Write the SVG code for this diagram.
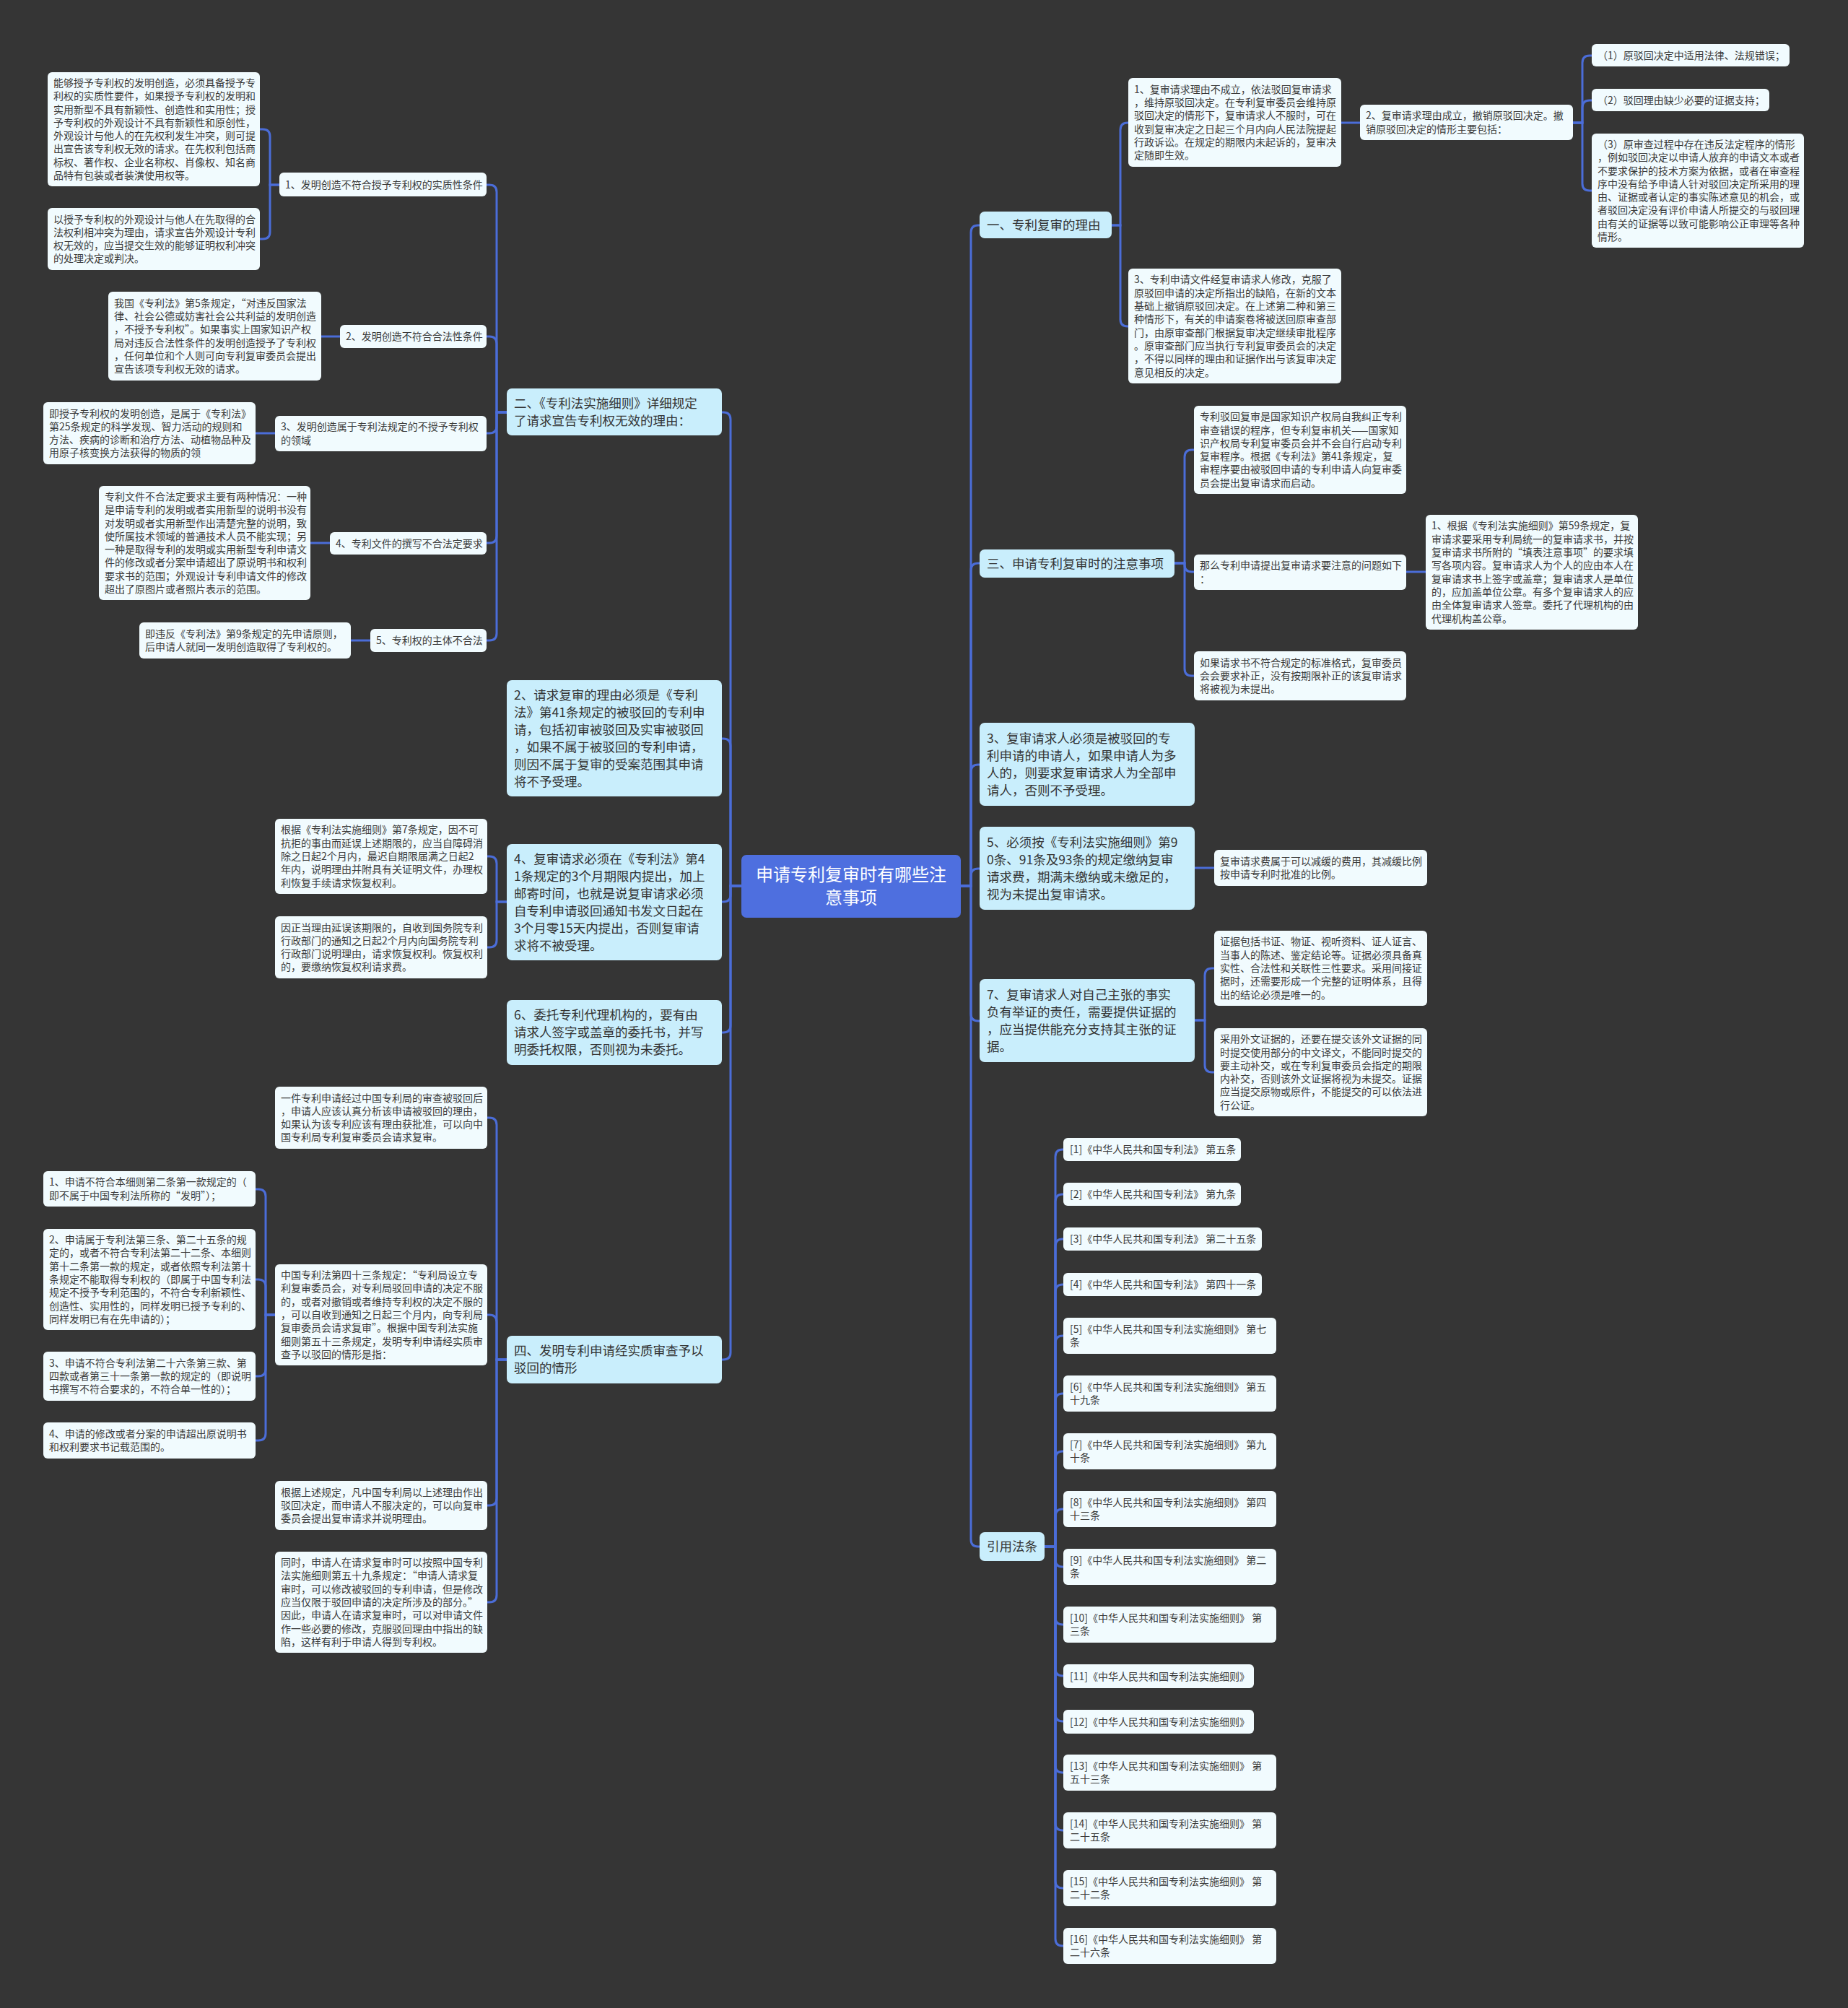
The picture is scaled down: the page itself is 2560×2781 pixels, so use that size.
<svg xmlns="http://www.w3.org/2000/svg" width="2560" height="2781" viewBox="0 0 2560 2781">
<style>
.bg{fill:#353535}
.c{fill:#4e6fdf}
.l1{fill:#c9eefc}
.lf{fill:#f1fbfe}
.tc{font-family:"Noto Sans CJK SC","Noto Sans",sans-serif;font-size:24px;fill:#ffffff;text-anchor:middle}
.t1{font-family:"Noto Sans CJK SC","Noto Sans",sans-serif;font-size:17.5px;fill:#333333}
.t2{font-family:"Noto Sans CJK SC","Noto Sans",sans-serif;font-size:14px;fill:#3a3a3a}
.ln{fill:none;stroke:#4b6dd8;stroke-width:3}
</style>
<rect class="bg" x="0" y="0" width="2560" height="2781"/>
<g id="connectors">
<path class="ln" d="M1027 1227H1012V581Q1012 571 1002 571H1000"/>
<path class="ln" d="M1027 1227H1012V1033Q1012 1023 1002 1023H1000"/>
<path class="ln" d="M1027 1227H1012V1239Q1012 1249 1002 1249H1000"/>
<path class="ln" d="M1027 1227H1012V1420Q1012 1430 1002 1430H1000"/>
<path class="ln" d="M1027 1227H1012V1873Q1012 1883 1002 1883H1000"/>
<path class="ln" d="M1331 1227H1345V322Q1345 312 1355 312H1357"/>
<path class="ln" d="M1331 1227H1345V790Q1345 780 1355 780H1357"/>
<path class="ln" d="M1331 1227H1345V1069Q1345 1059 1355 1059H1357"/>
<path class="ln" d="M1331 1227H1345V1213Q1345 1203 1355 1203H1357"/>
<path class="ln" d="M1331 1227H1345V1404Q1345 1414 1355 1414H1357"/>
<path class="ln" d="M1331 1227H1345V2132Q1345 2142 1355 2142H1357"/>
<path class="ln" d="M702 571H688V266Q688 256 678 256H674"/>
<path class="ln" d="M702 571H688V476Q688 466 678 466H674"/>
<path class="ln" d="M702 571H688V590Q688 600 678 600H674"/>
<path class="ln" d="M702 571H688V742Q688 752 678 752H674"/>
<path class="ln" d="M702 571H688V877Q688 887 678 887H674"/>
<path class="ln" d="M387 256H374V189Q374 179 364 179H360"/>
<path class="ln" d="M387 256H374V321Q374 331 364 331H360"/>
<path class="ln" d="M471 466H445"/>
<path class="ln" d="M381 600H354"/>
<path class="ln" d="M457 752H430"/>
<path class="ln" d="M513 887H486"/>
<path class="ln" d="M702 1249H688V1196Q688 1186 678 1186H675"/>
<path class="ln" d="M702 1249H688V1302Q688 1312 678 1312H675"/>
<path class="ln" d="M702 1883H688V1558Q688 1548 678 1548H675"/>
<path class="ln" d="M702 1883H688V1831Q688 1821 678 1821H675"/>
<path class="ln" d="M702 1883H688V2075Q688 2085 678 2085H675"/>
<path class="ln" d="M702 1883H688V2209Q688 2219 678 2219H675"/>
<path class="ln" d="M381 1821H368V1657Q368 1647 358 1647H354"/>
<path class="ln" d="M381 1821H368V1782Q368 1772 358 1772H354"/>
<path class="ln" d="M381 1821H368V1896Q368 1906 358 1906H354"/>
<path class="ln" d="M381 1821H368V1985Q368 1995 358 1995H354"/>
<path class="ln" d="M1540 312H1552V180Q1552 170 1562 170H1563"/>
<path class="ln" d="M1540 312H1552V442Q1552 452 1562 452H1563"/>
<path class="ln" d="M1858 170H1884"/>
<path class="ln" d="M2179 170H2192V87Q2192 77 2202 77H2205"/>
<path class="ln" d="M2179 170H2192V149Q2192 139 2202 139H2205"/>
<path class="ln" d="M2179 170H2192V254Q2192 264 2202 264H2205"/>
<path class="ln" d="M1627 780H1641V633Q1641 623 1651 623H1654"/>
<path class="ln" d="M1627 780H1641V782Q1641 792 1651 792H1654"/>
<path class="ln" d="M1627 780H1641V926Q1641 936 1651 936H1654"/>
<path class="ln" d="M1948 792H1975"/>
<path class="ln" d="M1655 1202H1682"/>
<path class="ln" d="M1655 1413H1669V1351Q1669 1341 1679 1341H1682"/>
<path class="ln" d="M1655 1413H1669V1475Q1669 1485 1679 1485H1682"/>
<path class="ln" d="M1447 2142H1462V1602Q1462 1592 1472 1592H1473"/>
<path class="ln" d="M1447 2142H1462V1664Q1462 1654 1472 1654H1473"/>
<path class="ln" d="M1447 2142H1462V1726Q1462 1716 1472 1716H1473"/>
<path class="ln" d="M1447 2142H1462V1789Q1462 1779 1472 1779H1473"/>
<path class="ln" d="M1447 2142H1462V1860Q1462 1850 1472 1850H1473"/>
<path class="ln" d="M1447 2142H1462V1940Q1462 1930 1472 1930H1473"/>
<path class="ln" d="M1447 2142H1462V2020Q1462 2010 1472 2010H1473"/>
<path class="ln" d="M1447 2142H1462V2100Q1462 2090 1472 2090H1473"/>
<path class="ln" d="M1447 2142H1462V2160Q1462 2170 1472 2170H1473"/>
<path class="ln" d="M1447 2142H1462V2240Q1462 2250 1472 2250H1473"/>
<path class="ln" d="M1447 2142H1462V2311Q1462 2321 1472 2321H1473"/>
<path class="ln" d="M1447 2142H1462V2374Q1462 2384 1472 2384H1473"/>
<path class="ln" d="M1447 2142H1462V2445Q1462 2455 1472 2455H1473"/>
<path class="ln" d="M1447 2142H1462V2525Q1462 2535 1472 2535H1473"/>
<path class="ln" d="M1447 2142H1462V2605Q1462 2615 1472 2615H1473"/>
<path class="ln" d="M1447 2142H1462V2685Q1462 2695 1472 2695H1473"/>
</g>
<g id="center"><rect class="c" x="1027" y="1184" width="304" height="87" rx="7"/><text class="tc" x="1179" y="1220"><tspan x="1179">申请专利复审时有哪些注</tspan><tspan x="1179" dy="32">意事项</tspan></text></g>
<g id="b-er"><rect class="l1" x="702" y="538" width="298" height="65" rx="7"/><text class="t1" x="712" y="564.8"><tspan x="712">二、《专利法实施细则》详细规定</tspan><tspan x="712" dy="24">了请求宣告专利权无效的理由：</tspan></text></g>
<g id="b-2"><rect class="l1" x="702" y="942" width="298" height="161" rx="7"/><text class="t1" x="712" y="968.8"><tspan x="712">2、请求复审的理由必须是《专利</tspan><tspan x="712" dy="24">法》第41条规定的被驳回的专利申</tspan><tspan x="712" dy="24">请，包括初审被驳回及实审被驳回</tspan><tspan x="712" dy="24">，如果不属于被驳回的专利申请，</tspan><tspan x="712" dy="24">则因不属于复审的受案范围其申请</tspan><tspan x="712" dy="24">将不予受理。</tspan></text></g>
<g id="b-4"><rect class="l1" x="702" y="1169" width="298" height="161" rx="7"/><text class="t1" x="712" y="1195.8"><tspan x="712">4、复审请求必须在《专利法》第4</tspan><tspan x="712" dy="24">1条规定的3个月期限内提出，加上</tspan><tspan x="712" dy="24">邮寄时间，也就是说复审请求必须</tspan><tspan x="712" dy="24">自专利申请驳回通知书发文日起在</tspan><tspan x="712" dy="24">3个月零15天内提出，否则复审请</tspan><tspan x="712" dy="24">求将不被受理。</tspan></text></g>
<g id="b-6"><rect class="l1" x="702" y="1385" width="298" height="90" rx="7"/><text class="t1" x="712" y="1412.3"><tspan x="712">6、委托专利代理机构的，要有由</tspan><tspan x="712" dy="24">请求人签字或盖章的委托书，并写</tspan><tspan x="712" dy="24">明委托权限，否则视为未委托。</tspan></text></g>
<g id="b-si"><rect class="l1" x="702" y="1850" width="298" height="66" rx="7"/><text class="t1" x="712" y="1877.3"><tspan x="712">四、发明专利申请经实质审查予以</tspan><tspan x="712" dy="24">驳回的情形</tspan></text></g>
<g id="b-yi"><rect class="l1" x="1357" y="293" width="183" height="37" rx="7"/><text class="t1" x="1367" y="317.8">一、专利复审的理由</text></g>
<g id="b-san"><rect class="l1" x="1357" y="761" width="270" height="39" rx="7"/><text class="t1" x="1367" y="786.8">三、申请专利复审时的注意事项</text></g>
<g id="b-3"><rect class="l1" x="1357" y="1001" width="298" height="115" rx="7"/><text class="t1" x="1367" y="1028.8"><tspan x="1367">3、复审请求人必须是被驳回的专</tspan><tspan x="1367" dy="24">利申请的申请人，如果申请人为多</tspan><tspan x="1367" dy="24">人的，则要求复审请求人为全部申</tspan><tspan x="1367" dy="24">请人，否则不予受理。</tspan></text></g>
<g id="b-5"><rect class="l1" x="1357" y="1145" width="298" height="115" rx="7"/><text class="t1" x="1367" y="1172.8"><tspan x="1367">5、必须按《专利法实施细则》第9</tspan><tspan x="1367" dy="24">0条、91条及93条的规定缴纳复审</tspan><tspan x="1367" dy="24">请求费，期满未缴纳或未缴足的，</tspan><tspan x="1367" dy="24">视为未提出复审请求。</tspan></text></g>
<g id="b-7"><rect class="l1" x="1357" y="1356" width="298" height="115" rx="7"/><text class="t1" x="1367" y="1383.8"><tspan x="1367">7、复审请求人对自己主张的事实</tspan><tspan x="1367" dy="24">负有举证的责任，需要提供证据的</tspan><tspan x="1367" dy="24">，应当提供能充分支持其主张的证</tspan><tspan x="1367" dy="24">据。</tspan></text></g>
<g id="b-ref"><rect class="l1" x="1357" y="2122" width="90" height="40" rx="7"/><text class="t1" x="1367" y="2148.3">引用法条</text></g>
<g id="a1"><rect class="lf" x="387" y="239" width="287" height="33" rx="6"/><text class="t2" x="395" y="260.5">1、发明创造不符合授予专利权的实质性条件</text></g>
<g id="a2"><rect class="lf" x="471" y="450" width="203" height="32" rx="6"/><text class="t2" x="479" y="471">2、发明创造不符合合法性条件</text></g>
<g id="a3"><rect class="lf" x="381" y="576" width="293" height="49" rx="6"/><text class="t2" x="389" y="596.4"><tspan x="389">3、发明创造属于专利法规定的不授予专利权</tspan><tspan x="389" dy="18.3">的领域</tspan></text></g>
<g id="a4"><rect class="lf" x="457" y="737" width="217" height="31" rx="6"/><text class="t2" x="465" y="757.5">4、专利文件的撰写不合法定要求</text></g>
<g id="a5"><rect class="lf" x="513" y="871" width="161" height="32" rx="6"/><text class="t2" x="521" y="892">5、专利权的主体不合法</text></g>
<g id="la"><rect class="lf" x="66" y="100" width="294" height="158" rx="6"/><text class="t2" x="74" y="119.95"><tspan x="74">能够授予专利权的发明创造，必须具备授予专</tspan><tspan x="74" dy="18.3">利权的实质性要件，如果授予专利权的发明和</tspan><tspan x="74" dy="18.3">实用新型不具有新颖性、创造性和实用性；授</tspan><tspan x="74" dy="18.3">予专利权的外观设计不具有新颖性和原创性，</tspan><tspan x="74" dy="18.3">外观设计与他人的在先权利发生冲突，则可提</tspan><tspan x="74" dy="18.3">出宣告该专利权无效的请求。在先权利包括商</tspan><tspan x="74" dy="18.3">标权、著作权、企业名称权、肖像权、知名商</tspan><tspan x="74" dy="18.3">品特有包装或者装潢使用权等。</tspan></text></g>
<g id="lb"><rect class="lf" x="66" y="288" width="294" height="86" rx="6"/><text class="t2" x="74" y="308.55"><tspan x="74">以授予专利权的外观设计与他人在先取得的合</tspan><tspan x="74" dy="18.3">法权利相冲突为理由，请求宣告外观设计专利</tspan><tspan x="74" dy="18.3">权无效的，应当提交生效的能够证明权利冲突</tspan><tspan x="74" dy="18.3">的处理决定或判决。</tspan></text></g>
<g id="lc"><rect class="lf" x="150" y="404" width="295" height="123" rx="6"/><text class="t2" x="158" y="424.75"><tspan x="158">我国《专利法》第5条规定，“对违反国家法</tspan><tspan x="158" dy="18.3">律、社会公德或妨害社会公共利益的发明创造</tspan><tspan x="158" dy="18.3">，不授予专利权”。如果事实上国家知识产权</tspan><tspan x="158" dy="18.3">局对违反合法性条件的发明创造授予了专利权</tspan><tspan x="158" dy="18.3">，任何单位和个人则可向专利复审委员会提出</tspan><tspan x="158" dy="18.3">宣告该项专利权无效的请求。</tspan></text></g>
<g id="ld"><rect class="lf" x="60" y="557" width="294" height="86" rx="6"/><text class="t2" x="68" y="577.55"><tspan x="68">即授予专利权的发明创造，是属于《专利法》</tspan><tspan x="68" dy="18.3">第25条规定的科学发现、智力活动的规则和</tspan><tspan x="68" dy="18.3">方法、疾病的诊断和治疗方法、动植物品种及</tspan><tspan x="68" dy="18.3">用原子核变换方法获得的物质的领</tspan></text></g>
<g id="le"><rect class="lf" x="137" y="673" width="293" height="158" rx="6"/><text class="t2" x="145" y="692.95"><tspan x="145">专利文件不合法定要求主要有两种情况：一种</tspan><tspan x="145" dy="18.3">是申请专利的发明或者实用新型的说明书没有</tspan><tspan x="145" dy="18.3">对发明或者实用新型作出清楚完整的说明，致</tspan><tspan x="145" dy="18.3">使所属技术领域的普通技术人员不能实现；另</tspan><tspan x="145" dy="18.3">一种是取得专利的发明或实用新型专利申请文</tspan><tspan x="145" dy="18.3">件的修改或者分案申请超出了原说明书和权利</tspan><tspan x="145" dy="18.3">要求书的范围；外观设计专利申请文件的修改</tspan><tspan x="145" dy="18.3">超出了原图片或者照片表示的范围。</tspan></text></g>
<g id="lf6"><rect class="lf" x="193" y="862" width="293" height="50" rx="6"/><text class="t2" x="201" y="882.85"><tspan x="201">即违反《专利法》第9条规定的先申请原则，</tspan><tspan x="201" dy="18.3">后申请人就同一发明创造取得了专利权的。</tspan></text></g>
<g id="f1"><rect class="lf" x="381" y="1134" width="294" height="104" rx="6"/><text class="t2" x="389" y="1154.4"><tspan x="389">根据《专利法实施细则》第7条规定，因不可</tspan><tspan x="389" dy="18.3">抗拒的事由而延误上述期限的，应当自障碍消</tspan><tspan x="389" dy="18.3">除之日起2个月内，最迟自期限届满之日起2</tspan><tspan x="389" dy="18.3">年内，说明理由并附具有关证明文件，办理权</tspan><tspan x="389" dy="18.3">利恢复手续请求恢复权利。</tspan></text></g>
<g id="f2"><rect class="lf" x="381" y="1269" width="294" height="86" rx="6"/><text class="t2" x="389" y="1289.55"><tspan x="389">因正当理由延误该期限的，自收到国务院专利</tspan><tspan x="389" dy="18.3">行政部门的通知之日起2个月内向国务院专利</tspan><tspan x="389" dy="18.3">行政部门说明理由，请求恢复权利。恢复权利</tspan><tspan x="389" dy="18.3">的，要缴纳恢复权利请求费。</tspan></text></g>
<g id="s1"><rect class="lf" x="381" y="1505" width="294" height="86" rx="6"/><text class="t2" x="389" y="1525.55"><tspan x="389">一件专利申请经过中国专利局的审查被驳回后</tspan><tspan x="389" dy="18.3">，申请人应该认真分析该申请被驳回的理由，</tspan><tspan x="389" dy="18.3">如果认为该专利应该有理由获批准，可以向中</tspan><tspan x="389" dy="18.3">国专利局专利复审委员会请求复审。</tspan></text></g>
<g id="s2"><rect class="lf" x="381" y="1751" width="294" height="140" rx="6"/><text class="t2" x="389" y="1771.1"><tspan x="389">中国专利法第四十三条规定：“专利局设立专</tspan><tspan x="389" dy="18.3">利复审委员会，对专利局驳回申请的决定不服</tspan><tspan x="389" dy="18.3">的，或者对撤销或者维持专利权的决定不服的</tspan><tspan x="389" dy="18.3">，可以自收到通知之日起三个月内，向专利局</tspan><tspan x="389" dy="18.3">复审委员会请求复审”。根据中国专利法实施</tspan><tspan x="389" dy="18.3">细则第五十三条规定，发明专利申请经实质审</tspan><tspan x="389" dy="18.3">查予以驳回的情形是指：</tspan></text></g>
<g id="s3"><rect class="lf" x="381" y="2051" width="294" height="68" rx="6"/><text class="t2" x="389" y="2071.7"><tspan x="389">根据上述规定，凡中国专利局以上述理由作出</tspan><tspan x="389" dy="18.3">驳回决定，而申请人不服决定的，可以向复审</tspan><tspan x="389" dy="18.3">委员会提出复审请求并说明理由。</tspan></text></g>
<g id="s4"><rect class="lf" x="381" y="2149" width="294" height="140" rx="6"/><text class="t2" x="389" y="2169.1"><tspan x="389">同时，申请人在请求复审时可以按照中国专利</tspan><tspan x="389" dy="18.3">法实施细则第五十九条规定：“申请人请求复</tspan><tspan x="389" dy="18.3">审时，可以修改被驳回的专利申请，但是修改</tspan><tspan x="389" dy="18.3">应当仅限于驳回申请的决定所涉及的部分。”</tspan><tspan x="389" dy="18.3">因此，申请人在请求复审时，可以对申请文件</tspan><tspan x="389" dy="18.3">作一些必要的修改，克服驳回理由中指出的缺</tspan><tspan x="389" dy="18.3">陷，这样有利于申请人得到专利权。</tspan></text></g>
<g id="t1"><rect class="lf" x="60" y="1622" width="294" height="49" rx="6"/><text class="t2" x="68" y="1642.35"><tspan x="68">1、申请不符合本细则第二条第一款规定的（</tspan><tspan x="68" dy="18.3">即不属于中国专利法所称的“发明”）；</tspan></text></g>
<g id="t2"><rect class="lf" x="60" y="1702" width="294" height="140" rx="6"/><text class="t2" x="68" y="1722.1"><tspan x="68">2、申请属于专利法第三条、第二十五条的规</tspan><tspan x="68" dy="18.3">定的，或者不符合专利法第二十二条、本细则</tspan><tspan x="68" dy="18.3">第十二条第一款的规定，或者依照专利法第十</tspan><tspan x="68" dy="18.3">条规定不能取得专利权的（即属于中国专利法</tspan><tspan x="68" dy="18.3">规定不授予专利范围的，不符合专利新颖性、</tspan><tspan x="68" dy="18.3">创造性、实用性的，同样发明已授予专利的、</tspan><tspan x="68" dy="18.3">同样发明已有在先申请的）；</tspan></text></g>
<g id="t3"><rect class="lf" x="60" y="1872" width="294" height="68" rx="6"/><text class="t2" x="68" y="1892.7"><tspan x="68">3、申请不符合专利法第二十六条第三款、第</tspan><tspan x="68" dy="18.3">四款或者第三十一条第一款的规定的（即说明</tspan><tspan x="68" dy="18.3">书撰写不符合要求的，不符合单一性的）；</tspan></text></g>
<g id="t4"><rect class="lf" x="60" y="1970" width="294" height="50" rx="6"/><text class="t2" x="68" y="1990.85"><tspan x="68">4、申请的修改或者分案的申请超出原说明书</tspan><tspan x="68" dy="18.3">和权利要求书记载范围的。</tspan></text></g>
<g id="p1"><rect class="lf" x="1563" y="108" width="295" height="123" rx="6"/><text class="t2" x="1571" y="128.75"><tspan x="1571">1、复审请求理由不成立，依法驳回复审请求</tspan><tspan x="1571" dy="18.3">，维持原驳回决定。在专利复审委员会维持原</tspan><tspan x="1571" dy="18.3">驳回决定的情形下，复审请求人不服时，可在</tspan><tspan x="1571" dy="18.3">收到复审决定之日起三个月内向人民法院提起</tspan><tspan x="1571" dy="18.3">行政诉讼。在规定的期限内未起诉的，复审决</tspan><tspan x="1571" dy="18.3">定随即生效。</tspan></text></g>
<g id="p2"><rect class="lf" x="1884" y="145" width="295" height="49" rx="6"/><text class="t2" x="1892" y="165.35"><tspan x="1892">2、复审请求理由成立，撤销原驳回决定。撤</tspan><tspan x="1892" dy="18.3">销原驳回决定的情形主要包括：</tspan></text></g>
<g id="q1"><rect class="lf" x="2205" y="61" width="274" height="31" rx="6"/><text class="t2" x="2213" y="81.5">（1）原驳回决定中适用法律、法规错误；</text></g>
<g id="q2"><rect class="lf" x="2205" y="123" width="246" height="31" rx="6"/><text class="t2" x="2213" y="143.5">（2）驳回理由缺少必要的证据支持；</text></g>
<g id="q3"><rect class="lf" x="2205" y="185" width="294" height="158" rx="6"/><text class="t2" x="2213" y="204.95"><tspan x="2213">（3）原审查过程中存在违反法定程序的情形</tspan><tspan x="2213" dy="18.3">，例如驳回决定以申请人放弃的申请文本或者</tspan><tspan x="2213" dy="18.3">不要求保护的技术方案为依据，或者在审查程</tspan><tspan x="2213" dy="18.3">序中没有给予申请人针对驳回决定所采用的理</tspan><tspan x="2213" dy="18.3">由、证据或者认定的事实陈述意见的机会，或</tspan><tspan x="2213" dy="18.3">者驳回决定没有评价申请人所提交的与驳回理</tspan><tspan x="2213" dy="18.3">由有关的证据等以致可能影响公正审理等各种</tspan><tspan x="2213" dy="18.3">情形。</tspan></text></g>
<g id="p3"><rect class="lf" x="1563" y="372" width="295" height="159" rx="6"/><text class="t2" x="1571" y="392.45"><tspan x="1571">3、专利申请文件经复审请求人修改，克服了</tspan><tspan x="1571" dy="18.3">原驳回申请的决定所指出的缺陷，在新的文本</tspan><tspan x="1571" dy="18.3">基础上撤销原驳回决定。在上述第二种和第三</tspan><tspan x="1571" dy="18.3">种情形下，有关的申请案卷将被送回原审查部</tspan><tspan x="1571" dy="18.3">门，由原审查部门根据复审决定继续审批程序</tspan><tspan x="1571" dy="18.3">。原审查部门应当执行专利复审委员会的决定</tspan><tspan x="1571" dy="18.3">，不得以同样的理由和证据作出与该复审决定</tspan><tspan x="1571" dy="18.3">意见相反的决定。</tspan></text></g>
<g id="n1"><rect class="lf" x="1654" y="562" width="294" height="122" rx="6"/><text class="t2" x="1662" y="582.25"><tspan x="1662">专利驳回复审是国家知识产权局自我纠正专利</tspan><tspan x="1662" dy="18.3">审查错误的程序，但专利复审机关——国家知</tspan><tspan x="1662" dy="18.3">识产权局专利复审委员会并不会自行启动专利</tspan><tspan x="1662" dy="18.3">复审程序。根据《专利法》第41条规定，复</tspan><tspan x="1662" dy="18.3">审程序要由被驳回申请的专利申请人向复审委</tspan><tspan x="1662" dy="18.3">员会提出复审请求而启动。</tspan></text></g>
<g id="n2"><rect class="lf" x="1654" y="768" width="294" height="49" rx="6"/><text class="t2" x="1662" y="788.35"><tspan x="1662">那么专利申请提出复审请求要注意的问题如下</tspan><tspan x="1662" dy="18.3">：</tspan></text></g>
<g id="n3"><rect class="lf" x="1654" y="902" width="294" height="68" rx="6"/><text class="t2" x="1662" y="922.7"><tspan x="1662">如果请求书不符合规定的标准格式，复审委员</tspan><tspan x="1662" dy="18.3">会会要求补正，没有按期限补正的该复审请求</tspan><tspan x="1662" dy="18.3">将被视为未提出。</tspan></text></g>
<g id="n4"><rect class="lf" x="1975" y="713" width="294" height="159" rx="6"/><text class="t2" x="1983" y="733.45"><tspan x="1983">1、根据《专利法实施细则》第59条规定，复</tspan><tspan x="1983" dy="18.3">审请求要采用专利局统一的复审请求书，并按</tspan><tspan x="1983" dy="18.3">复审请求书所附的“填表注意事项”的要求填</tspan><tspan x="1983" dy="18.3">写各项内容。复审请求人为个人的应由本人在</tspan><tspan x="1983" dy="18.3">复审请求书上签字或盖章；复审请求人是单位</tspan><tspan x="1983" dy="18.3">的，应加盖单位公章。有多个复审请求人的应</tspan><tspan x="1983" dy="18.3">由全体复审请求人签章。委托了代理机构的由</tspan><tspan x="1983" dy="18.3">代理机构盖公章。</tspan></text></g>
<g id="m1"><rect class="lf" x="1682" y="1177" width="295" height="50" rx="6"/><text class="t2" x="1690" y="1197.85"><tspan x="1690">复审请求费属于可以减缓的费用，其减缓比例</tspan><tspan x="1690" dy="18.3">按申请专利时批准的比例。</tspan></text></g>
<g id="e1"><rect class="lf" x="1682" y="1289" width="295" height="104" rx="6"/><text class="t2" x="1690" y="1309.4"><tspan x="1690">证据包括书证、物证、视听资料、证人证言、</tspan><tspan x="1690" dy="18.3">当事人的陈述、鉴定结论等。证据必须具备真</tspan><tspan x="1690" dy="18.3">实性、合法性和关联性三性要求。采用间接证</tspan><tspan x="1690" dy="18.3">据时，还需要形成一个完整的证明体系，且得</tspan><tspan x="1690" dy="18.3">出的结论必须是唯一的。</tspan></text></g>
<g id="e2"><rect class="lf" x="1682" y="1424" width="295" height="122" rx="6"/><text class="t2" x="1690" y="1444.25"><tspan x="1690">采用外文证据的，还要在提交该外文证据的同</tspan><tspan x="1690" dy="18.3">时提交使用部分的中文译文，不能同时提交的</tspan><tspan x="1690" dy="18.3">要主动补交，或在专利复审委员会指定的期限</tspan><tspan x="1690" dy="18.3">内补交，否则该外文证据将视为未提交。证据</tspan><tspan x="1690" dy="18.3">应当提交原物或原件，不能提交的可以依法进</tspan><tspan x="1690" dy="18.3">行公证。</tspan></text></g>
<g id="r1"><rect class="lf" x="1473" y="1576" width="246" height="32" rx="6"/><text class="t2" x="1482" y="1597">[1]《中华人民共和国专利法》 第五条</text></g>
<g id="r2"><rect class="lf" x="1473" y="1638" width="246" height="32" rx="6"/><text class="t2" x="1482" y="1659">[2]《中华人民共和国专利法》 第九条</text></g>
<g id="r3"><rect class="lf" x="1473" y="1700" width="275" height="32" rx="6"/><text class="t2" x="1482" y="1721">[3]《中华人民共和国专利法》 第二十五条</text></g>
<g id="r4"><rect class="lf" x="1473" y="1763" width="275" height="32" rx="6"/><text class="t2" x="1482" y="1784">[4]《中华人民共和国专利法》 第四十一条</text></g>
<g id="r5"><rect class="lf" x="1473" y="1825" width="295" height="50" rx="6"/><text class="t2" x="1482" y="1845.85"><tspan x="1482">[5]《中华人民共和国专利法实施细则》 第七</tspan><tspan x="1482" dy="18.3">条</tspan></text></g>
<g id="r6"><rect class="lf" x="1473" y="1905" width="295" height="50" rx="6"/><text class="t2" x="1482" y="1925.85"><tspan x="1482">[6]《中华人民共和国专利法实施细则》 第五</tspan><tspan x="1482" dy="18.3">十九条</tspan></text></g>
<g id="r7"><rect class="lf" x="1473" y="1985" width="295" height="50" rx="6"/><text class="t2" x="1482" y="2005.85"><tspan x="1482">[7]《中华人民共和国专利法实施细则》 第九</tspan><tspan x="1482" dy="18.3">十条</tspan></text></g>
<g id="r8"><rect class="lf" x="1473" y="2065" width="295" height="50" rx="6"/><text class="t2" x="1482" y="2085.85"><tspan x="1482">[8]《中华人民共和国专利法实施细则》 第四</tspan><tspan x="1482" dy="18.3">十三条</tspan></text></g>
<g id="r9"><rect class="lf" x="1473" y="2145" width="295" height="50" rx="6"/><text class="t2" x="1482" y="2165.85"><tspan x="1482">[9]《中华人民共和国专利法实施细则》 第二</tspan><tspan x="1482" dy="18.3">条</tspan></text></g>
<g id="r10"><rect class="lf" x="1473" y="2225" width="295" height="50" rx="6"/><text class="t2" x="1482" y="2245.85"><tspan x="1482">[10]《中华人民共和国专利法实施细则》 第</tspan><tspan x="1482" dy="18.3">三条</tspan></text></g>
<g id="r11"><rect class="lf" x="1473" y="2305" width="264" height="33" rx="6"/><text class="t2" x="1482" y="2326.5">[11]《中华人民共和国专利法实施细则》</text></g>
<g id="r12"><rect class="lf" x="1473" y="2368" width="264" height="33" rx="6"/><text class="t2" x="1482" y="2389.5">[12]《中华人民共和国专利法实施细则》</text></g>
<g id="r13"><rect class="lf" x="1473" y="2430" width="295" height="50" rx="6"/><text class="t2" x="1482" y="2450.85"><tspan x="1482">[13]《中华人民共和国专利法实施细则》 第</tspan><tspan x="1482" dy="18.3">五十三条</tspan></text></g>
<g id="r14"><rect class="lf" x="1473" y="2510" width="295" height="50" rx="6"/><text class="t2" x="1482" y="2530.85"><tspan x="1482">[14]《中华人民共和国专利法实施细则》 第</tspan><tspan x="1482" dy="18.3">二十五条</tspan></text></g>
<g id="r15"><rect class="lf" x="1473" y="2590" width="295" height="50" rx="6"/><text class="t2" x="1482" y="2610.85"><tspan x="1482">[15]《中华人民共和国专利法实施细则》 第</tspan><tspan x="1482" dy="18.3">二十二条</tspan></text></g>
<g id="r16"><rect class="lf" x="1473" y="2670" width="295" height="50" rx="6"/><text class="t2" x="1482" y="2690.85"><tspan x="1482">[16]《中华人民共和国专利法实施细则》 第</tspan><tspan x="1482" dy="18.3">二十六条</tspan></text></g>
</svg>
